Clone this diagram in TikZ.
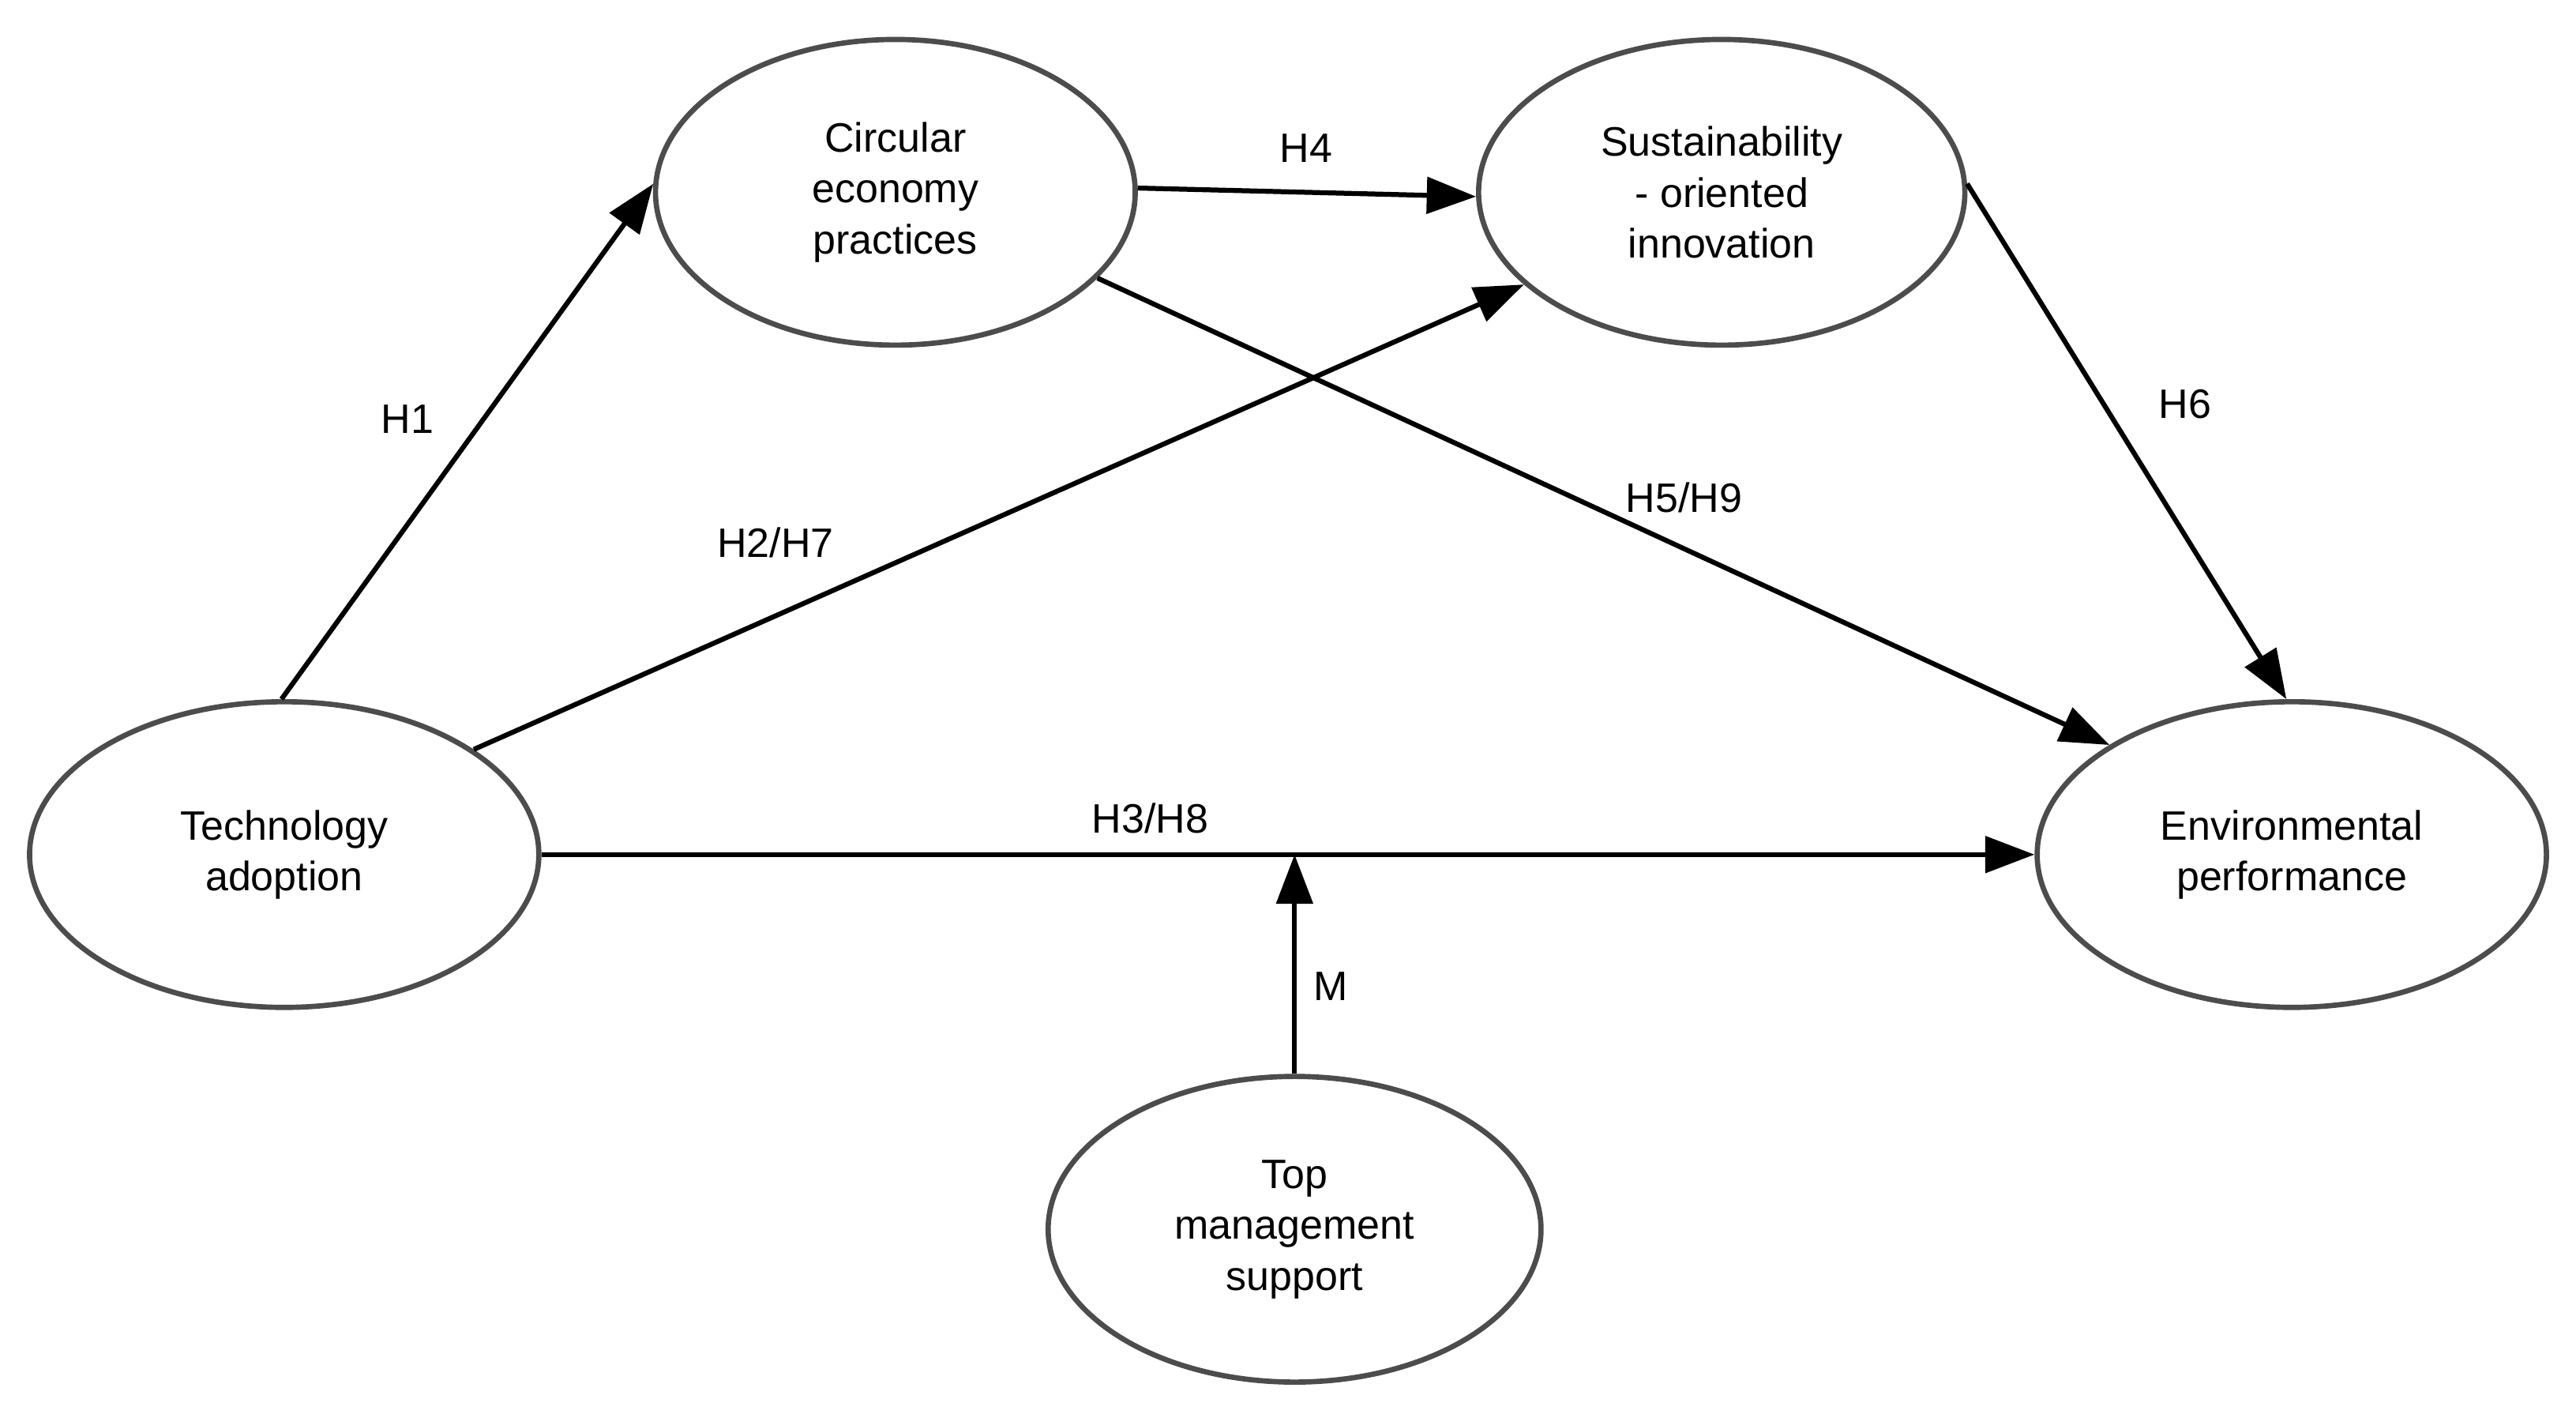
\documentclass[tikz,border=0pt]{standalone}
\usepackage{fontspec}
\setmainfont{Liberation Sans}
\usetikzlibrary{shapes.geometric,arrows.meta}
\begin{document}
\begin{tikzpicture}[x=1pt,y=-1pt,
  latent/.style={draw=black!70,line width=3.2pt,ellipse,inner sep=0pt,align=center,
    font=\fontsize{25}{31}\selectfont},
  path/.style={line width=3pt,-{Triangle[length=30pt,width=22pt]}},
  lab/.style={font=\fontsize{25}{31}\selectfont}]
\useasboundingbox (0,0) rectangle (1568,860.4);
\fill[white] (0,0) rectangle (1568,860.4);
\node[latent,minimum width=292pt,minimum height=186pt] (ce) at (545,117) {Circular\\economy\\practices};
\node[latent,minimum width=296pt,minimum height=186pt] (sus) at (1048,117) {Sustainability\\- oriented\\innovation};
\node[latent,minimum width=310pt,minimum height=186pt] (tech) at (173,520) {Technology\\adoption};
\node[latent,minimum width=310pt,minimum height=186pt] (env) at (1395,520) {Environmental\\performance};
\node[latent,minimum width=300pt,minimum height=186pt] (top) at (788,748) {Top\\management\\support};
\draw[path] (tech.91) -- (ce.178);
\draw[path] (tech.29) -- (sus.205);
\draw[path] (tech.east) -- (env.west);
\draw[path] (ce.1) -- (sus.181);
\draw[path] (ce.337) -- (env.149);
\draw[path] (sus.2) -- (env.92);
\coordinate (mend) at (tech.east -| top.north);
\draw[path] (top.north) -- (mend);
\node[lab] (l1) at (248,255) {H1};
\node[lab] (l2) at (472,330) {H2/H7};
\node[lab] (l3) at (700,498) {H3/H8};
\node[lab] (l4) at (795,90) {H4};
\node[lab] (l5) at (1025,303) {H5/H9};
\node[lab] (l6) at (1330,246) {H6};
\node[lab] (lm) at (810,600) {M};
\end{tikzpicture}
\end{document}
